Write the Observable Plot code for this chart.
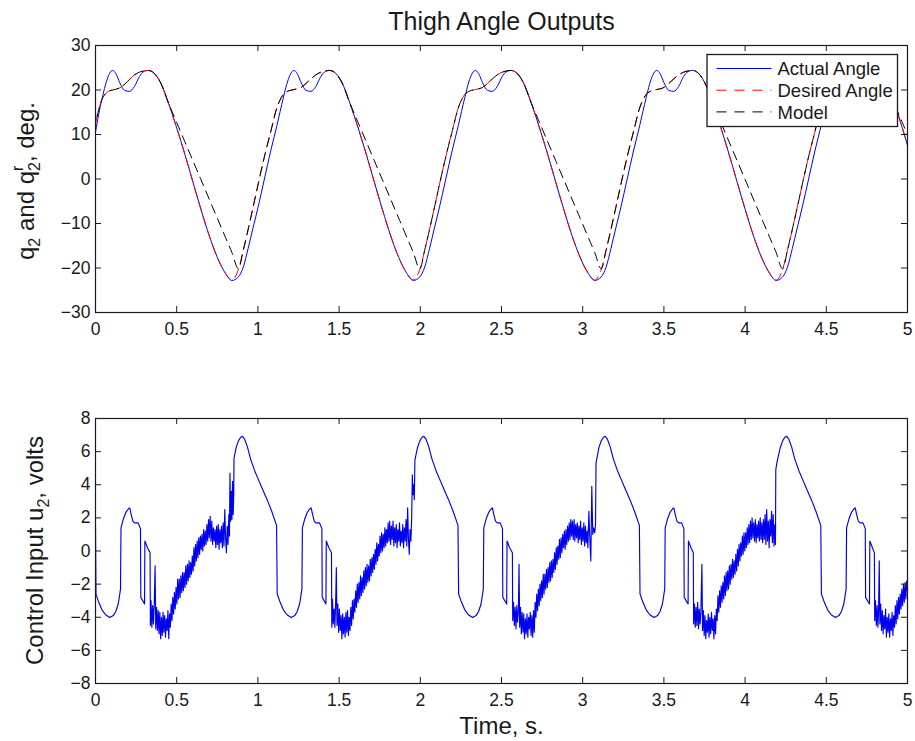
<!DOCTYPE html>
<html><head><meta charset="utf-8">
<script src="https://cdn.jsdelivr.net/npm/d3@7"></script>
<script src="https://cdn.jsdelivr.net/npm/@observablehq/plot@0.6"></script>
<style>
html,body{margin:0;padding:0;background:#fff;}
#fig{position:relative;width:915px;height:741px;overflow:hidden;background:#fff;}
#fig svg{position:absolute;left:0;}
</style></head><body><div id="fig"></div>
<script>
// ---------- DATA ----------
const xTicks = [0, 0.5, 1, 1.5, 2, 2.5, 3, 3.5, 4, 4.5, 5];
const angleTicks = [-30, -20, -10, 0, 10, 20, 30];
const voltTicks = [-8, -6, -4, -2, 0, 2, 4, 6, 8];
const seriesNames = ["Actual Angle", "Desired Angle", "Model"];

// Thigh angle, actual (deg) [time s, value]
const actualAngle = [
[0,10.5],[0.02,14.6],[0.04,18.0],[0.06,21.0],[0.08,23.2],[0.095,24.2],[0.105,24.4],[0.125,23.7],[0.15,21.6],[0.18,19.9],[0.21,19.7],[0.24,20.8],[0.27,23.0],[0.3,24.2],[0.325,24.4],[0.35,24.1],[0.4,21.7],[0.45,17.0],[0.5,11.5],[0.55,5.6],[0.6,-0.7],[0.65,-6.9],[0.7,-12.7],[0.75,-17.6],[0.8,-21.2],[0.84,-22.8],[0.88,-22.0],[0.91,-19.8],[0.94,-15.6],[0.97,-11.0],[1.0,-6.5],[1.04,0.0],[1.08,6.5],
[1.117,12.0],[1.137,15.2],[1.157,18.3],[1.177,21.2],[1.197,23.3],[1.212,24.2],[1.222,24.4],[1.242,23.7],[1.267,21.6],[1.297,19.9],[1.327,19.7],[1.357,20.8],[1.387,23.0],[1.417,24.2],[1.442,24.4],[1.467,24.1],[1.517,21.7],[1.567,17.0],[1.617,11.5],[1.667,5.6],[1.717,-0.7],[1.767,-6.9],[1.817,-12.7],[1.867,-17.6],[1.917,-21.2],[1.957,-22.8],[1.997,-22.0],[2.027,-19.8],[2.057,-15.6],[2.087,-11.0],[2.117,-6.5],[2.157,0.0],[2.197,6.5],
[2.234,12.0],[2.254,15.2],[2.274,18.3],[2.294,21.2],[2.314,23.3],[2.329,24.2],[2.339,24.4],[2.359,23.7],[2.384,21.6],[2.414,19.9],[2.444,19.7],[2.474,20.8],[2.504,23.0],[2.534,24.2],[2.559,24.4],[2.584,24.1],[2.634,21.7],[2.684,17.0],[2.734,11.5],[2.784,5.6],[2.834,-0.7],[2.884,-6.9],[2.934,-12.7],[2.984,-17.6],[3.034,-21.2],[3.074,-22.8],[3.114,-22.0],[3.144,-19.8],[3.174,-15.6],[3.204,-11.0],[3.234,-6.5],[3.274,0.0],[3.314,6.5],
[3.351,12.0],[3.371,15.2],[3.391,18.3],[3.411,21.2],[3.431,23.3],[3.446,24.2],[3.456,24.4],[3.476,23.7],[3.501,21.6],[3.531,19.9],[3.561,19.7],[3.591,20.8],[3.621,23.0],[3.651,24.2],[3.676,24.4],[3.701,24.1],[3.751,21.7],[3.801,17.0],[3.851,11.5],[3.901,5.6],[3.951,-0.7],[4.001,-6.9],[4.051,-12.7],[4.101,-17.6],[4.151,-21.2],[4.191,-22.8],[4.231,-22.0],[4.261,-19.8],[4.291,-15.6],[4.321,-11.0],[4.351,-6.5],[4.391,0.0],[4.431,6.5],
[4.468,12.0],[4.488,15.2],[4.508,18.3],[4.528,21.2],[4.548,23.3],[4.563,24.2],[4.573,24.4],[4.593,23.7],[4.618,21.6],[4.648,19.9],[4.678,19.7],[4.708,20.8],[4.738,23.0],[4.768,24.2],[4.793,24.4],[4.818,24.1],[4.868,21.7],[4.918,17.0],[4.968,11.5],[5.0,7.6]
];

// Thigh angle, desired (deg)
const desiredAngle = [
[0,12.5],[0.02,15.6],[0.04,17.9],[0.06,19.1],[0.08,19.7],[0.105,20.0],[0.15,20.5],[0.18,21.3],[0.21,22.4],[0.24,23.4],[0.27,24.0],[0.3,24.3],[0.325,24.4],[0.35,24.1],[0.4,21.7],[0.45,17.0],[0.5,11.5],[0.55,5.6],[0.6,-0.7],[0.65,-6.9],[0.7,-12.7],[0.75,-17.6],[0.8,-21.2],[0.84,-22.7],[0.88,-20.3],[0.91,-16.0],[0.94,-11.3],[0.97,-6.4],[1.0,-1.4],[1.04,5.0],[1.08,10.8],
[1.117,16.0],[1.137,17.8],[1.157,19.0],[1.177,19.6],[1.197,19.9],[1.222,20.1],[1.267,20.6],[1.297,21.5],[1.327,22.5],[1.357,23.4],[1.387,24.0],[1.417,24.3],[1.442,24.4],[1.467,24.1],[1.517,21.7],[1.567,17.0],[1.617,11.5],[1.667,5.6],[1.717,-0.7],[1.767,-6.9],[1.817,-12.7],[1.867,-17.6],[1.917,-21.2],[1.957,-22.7],[1.997,-20.3],[2.027,-16.0],[2.057,-11.3],[2.087,-6.4],[2.117,-1.4],[2.157,5.0],[2.197,10.8],
[2.234,16.0],[2.254,17.8],[2.274,19.0],[2.294,19.6],[2.314,19.9],[2.339,20.1],[2.384,20.6],[2.414,21.5],[2.444,22.5],[2.474,23.4],[2.504,24.0],[2.534,24.3],[2.559,24.4],[2.584,24.1],[2.634,21.7],[2.684,17.0],[2.734,11.5],[2.784,5.6],[2.834,-0.7],[2.884,-6.9],[2.934,-12.7],[2.984,-17.6],[3.034,-21.2],[3.074,-22.7],[3.114,-20.3],[3.144,-16.0],[3.174,-11.3],[3.204,-6.4],[3.234,-1.4],[3.274,5.0],[3.314,10.8],
[3.351,16.0],[3.371,17.8],[3.391,19.0],[3.411,19.6],[3.431,19.9],[3.456,20.1],[3.501,20.6],[3.531,21.5],[3.561,22.5],[3.591,23.4],[3.621,24.0],[3.651,24.3],[3.676,24.4],[3.701,24.1],[3.751,21.7],[3.801,17.0],[3.851,11.5],[3.901,5.6],[3.951,-0.7],[4.001,-6.9],[4.051,-12.7],[4.101,-17.6],[4.151,-21.2],[4.191,-22.7],[4.231,-20.3],[4.261,-16.0],[4.291,-11.3],[4.321,-6.4],[4.351,-1.4],[4.391,5.0],[4.431,10.8],
[4.468,16.0],[4.488,17.8],[4.508,19.0],[4.528,19.6],[4.548,19.9],[4.573,20.1],[4.618,20.6],[4.648,21.5],[4.678,22.5],[4.708,23.4],[4.738,24.0],[4.768,24.3],[4.793,24.4],[4.818,24.1],[4.868,21.7],[4.918,17.0],[4.968,11.5],[5.0,7.6]
];

// Thigh angle, model (deg)
const modelAngle = [
[0,12.5],[0.02,15.6],[0.04,17.9],[0.06,19.1],[0.08,19.7],[0.105,20.0],[0.15,20.5],[0.18,21.3],[0.21,22.4],[0.24,23.4],[0.27,24.0],[0.3,24.3],[0.325,24.4],[0.35,24.1],[0.4,21.7],[0.45,17.0],[0.5,12.7],[0.55,8.4],[0.6,4.1],[0.65,-0.2],[0.7,-4.5],[0.75,-8.8],[0.8,-13.1],[0.84,-16.5],[0.88,-20.2],[0.91,-16.0],[0.94,-11.3],[0.97,-6.4],[1.0,-1.4],[1.04,5.0],[1.08,10.8],
[1.117,16.0],[1.137,17.8],[1.157,19.0],[1.177,19.6],[1.197,19.9],[1.222,20.1],[1.267,20.6],[1.297,21.5],[1.327,22.5],[1.357,23.4],[1.387,24.0],[1.417,24.3],[1.442,24.4],[1.467,24.1],[1.517,21.7],[1.567,17.0],[1.617,12.7],[1.667,8.4],[1.717,4.1],[1.767,-0.2],[1.817,-4.5],[1.867,-8.8],[1.917,-13.1],[1.957,-16.5],[1.997,-20.2],[2.027,-16.0],[2.057,-11.3],[2.087,-6.4],[2.117,-1.4],[2.157,5.0],[2.197,10.8],
[2.234,16.0],[2.254,17.8],[2.274,19.0],[2.294,19.6],[2.314,19.9],[2.339,20.1],[2.384,20.6],[2.414,21.5],[2.444,22.5],[2.474,23.4],[2.504,24.0],[2.534,24.3],[2.559,24.4],[2.584,24.1],[2.634,21.7],[2.684,17.0],[2.734,12.7],[2.784,8.4],[2.834,4.1],[2.884,-0.2],[2.934,-4.5],[2.984,-8.8],[3.034,-13.1],[3.074,-16.5],[3.114,-20.2],[3.144,-16.0],[3.174,-11.3],[3.204,-6.4],[3.234,-1.4],[3.274,5.0],[3.314,10.8],
[3.351,16.0],[3.371,17.8],[3.391,19.0],[3.411,19.6],[3.431,19.9],[3.456,20.1],[3.501,20.6],[3.531,21.5],[3.561,22.5],[3.591,23.4],[3.621,24.0],[3.651,24.3],[3.676,24.4],[3.701,24.1],[3.751,21.7],[3.801,17.0],[3.851,12.7],[3.901,8.4],[3.951,4.1],[4.001,-0.2],[4.051,-4.5],[4.101,-8.8],[4.151,-13.1],[4.191,-16.5],[4.231,-20.2],[4.261,-16.0],[4.291,-11.3],[4.321,-6.4],[4.351,-1.4],[4.391,5.0],[4.431,10.8],
[4.468,16.0],[4.488,17.8],[4.508,19.0],[4.528,19.6],[4.548,19.9],[4.573,20.1],[4.618,20.6],[4.648,21.5],[4.678,22.5],[4.708,23.4],[4.738,24.0],[4.768,24.3],[4.793,24.4],[4.818,24.1],[4.868,21.7],[4.918,17.0],[4.968,12.7],[5.0,9.9]
];

// Control input u2 (volts): start time of each gait cycle (s) and the samples of each cycle [time within cycle, value]
const cycleStarts = [0, 1.117, 2.234, 3.351, 4.468];
const controlCycle0 = [
[0,1.5],[0.003,-2.6],[0.02,-3.1],[0.04,-3.55],[0.062,-3.85],[0.088,-4.02],[0.11,-3.9],[0.125,-3.65],[0.14,-3.2],[0.154,-2.3],[0.157,1.4],[0.172,1.95],[0.188,2.35],[0.203,2.55],[0.211,2.6],[0.22,2.2],[0.23,1.8],[0.24,1.7],[0.262,1.7],[0.277,1.35],[0.279,-2.8],[0.302,-3.2],[0.304,0.6],[0.32,0.2],[0.336,-0.1],
[0.338,-4.5],[0.342,-3.0],[0.347,-4.6],[0.352,-3.3],[0.357,-4.4],[0.362,-3.1],[0.367,-0.9],[0.371,-4.7],[0.376,-3.4],[0.381,-4.8],[0.386,-3.6],[0.391,-5.0],[0.396,-3.7],[0.401,-5.3],[0.406,-4.0],[0.411,-5.1],[0.416,-3.7],[0.421,-4.9],[0.426,-3.9],[0.431,-5.2],[0.436,-4.1],[0.441,-4.8],[0.446,-3.6],[0.451,-5.3],[0.456,-3.8],[0.461,-4.6],[0.466,-3.2],[0.471,-4.2],[0.476,-2.8],[0.481,-3.8],[0.486,-2.5],[0.491,-3.5],[0.496,-2.2],[0.501,-3.2],[0.506,-1.7],[0.511,-2.9],[0.516,-1.7],[0.521,-2.8],[0.526,-1.5],[0.531,-2.5],[0.536,-1.3],[0.541,-2.4],[0.546,-1.3],[0.551,-2.2],[0.556,-0.9],[0.561,-2.0],[0.566,-0.8],[0.571,-1.8],[0.576,-0.6],[0.581,-1.6],[0.586,-0.7],[0.591,-1.4],[0.596,-0.3],[0.601,-1.2],[0.606,0.2],[0.611,-0.9],[0.616,0.4],[0.621,-0.6],[0.626,0.6],[0.631,-0.4],[0.636,0.8],[0.641,-0.2],[0.646,0.9],[0.651,0.1],[0.656,1.0],[0.661,0.0],[0.666,1.3],[0.671,0.3],[0.676,1.2],[0.681,0.4],[0.686,1.6],[0.691,0.6],[0.696,1.9],[0.701,0.8],[0.706,2.1],[0.711,0.6],[0.716,1.8],[0.721,0.4],[0.726,1.4],[0.731,0.6],[0.736,1.3],[0.741,0.2],[0.746,1.5],[0.751,0.4],[0.756,1.6],[0.761,0.1],[0.766,1.3],[0.771,0.5],[0.776,1.5],[0.781,0.2],[0.786,1.7],[0.791,0.3],[0.796,2.5],[0.801,0.8],[0.806,-0.1],[0.811,1.5],[0.816,0.4],[0.821,2.2],[0.825,0.9],[0.828,4.7],[0.832,1.8],[0.836,3.6],[0.84,1.9],[0.844,4.2],[0.848,2.2],[0.851,3.4],[0.853,5.6],
[0.866,6.25],[0.88,6.65],[0.895,6.88],[0.905,6.92],[0.918,6.75],[0.935,6.3],[0.955,5.55],[0.98,4.85],[1.006,4.25],[1.03,3.7],[1.057,3.1],[1.085,2.4],[1.115,1.55]
];
const controlCycle1 = [
[0.002,-2.6],[0.02,-3.1],[0.04,-3.55],[0.062,-3.85],[0.088,-4.02],[0.11,-3.9],[0.125,-3.65],[0.14,-3.2],[0.154,-2.3],[0.157,1.4],[0.172,1.95],[0.188,2.35],[0.203,2.55],[0.211,2.6],[0.22,2.2],[0.23,1.8],[0.24,1.7],[0.262,1.7],[0.277,1.35],[0.279,-2.8],[0.302,-3.2],[0.304,0.6],[0.32,0.2],[0.336,-0.1],
[0.338,-4.6],[0.342,-2.9],[0.347,-4.4],[0.352,-3.5],[0.357,-4.6],[0.362,-3.0],[0.366,-1.0],[0.37,-4.5],[0.375,-3.2],[0.38,-4.9],[0.385,-3.5],[0.39,-4.8],[0.395,-3.9],[0.4,-5.3],[0.405,-3.8],[0.41,-5.0],[0.415,-4.0],[0.42,-5.2],[0.425,-3.7],[0.43,-4.9],[0.435,-3.6],[0.44,-5.1],[0.445,-4.0],[0.45,-4.8],[0.455,-3.4],[0.46,-4.5],[0.465,-3.0],[0.47,-4.1],[0.475,-2.9],[0.48,-3.7],[0.485,-2.4],[0.49,-3.4],[0.495,-2.0],[0.5,-3.1],[0.505,-1.9],[0.51,-2.9],[0.515,-1.5],[0.52,-2.7],[0.525,-1.6],[0.53,-2.5],[0.535,-1.2],[0.54,-2.3],[0.545,-1.0],[0.55,-2.1],[0.555,-0.8],[0.56,-1.9],[0.565,-0.9],[0.57,-1.8],[0.575,-0.5],[0.58,-1.5],[0.585,-0.4],[0.59,-1.3],[0.595,-0.2],[0.6,-1.1],[0.605,0.1],[0.61,-0.8],[0.615,0.5],[0.62,-0.6],[0.625,0.4],[0.63,-0.3],[0.635,0.9],[0.64,-0.1],[0.645,1.1],[0.65,0.0],[0.655,1.0],[0.66,0.2],[0.665,1.4],[0.67,0.3],[0.675,1.3],[0.68,0.5],[0.685,1.7],[0.69,0.6],[0.695,1.8],[0.7,0.4],[0.705,1.5],[0.71,0.7],[0.715,1.8],[0.72,0.3],[0.725,1.4],[0.73,0.5],[0.735,1.6],[0.74,0.2],[0.745,1.3],[0.75,0.6],[0.755,1.7],[0.76,0.3],[0.765,1.2],[0.77,0.5],[0.775,1.6],[0.78,0.2],[0.785,1.4],[0.79,0.6],[0.795,1.9],[0.8,0.3],[0.805,2.6],[0.81,0.7],[0.815,-0.2],[0.82,1.3],[0.825,0.6],[0.83,2.0],[0.834,4.6],[0.838,3.4],[0.842,4.0],[0.846,3.1],[0.85,5.5],
[0.866,6.25],[0.88,6.65],[0.895,6.88],[0.905,6.92],[0.918,6.75],[0.935,6.3],[0.955,5.55],[0.98,4.85],[1.006,4.25],[1.03,3.7],[1.057,3.1],[1.085,2.4],[1.115,1.55]
];
const controlCycle2 = [
[0.002,-2.6],[0.02,-3.1],[0.04,-3.55],[0.062,-3.85],[0.088,-4.02],[0.11,-3.9],[0.125,-3.65],[0.14,-3.2],[0.154,-2.3],[0.157,1.4],[0.172,1.95],[0.188,2.35],[0.203,2.55],[0.21,2.6],[0.219,2.2],[0.229,1.8],[0.24,1.7],[0.258,1.7],[0.272,1.35],[0.274,-2.8],[0.298,-3.2],[0.3,0.6],[0.316,0.2],[0.333,-0.1],
[0.335,-4.2],[0.34,-3.1],[0.345,-4.5],[0.35,-3.4],[0.355,-4.7],[0.36,-3.3],[0.365,-4.3],[0.37,-3.6],[0.374,-0.8],[0.378,-4.6],[0.383,-3.4],[0.388,-5.0],[0.393,-3.7],[0.398,-4.9],[0.403,-3.8],[0.408,-5.3],[0.413,-4.1],[0.418,-5.0],[0.423,-3.8],[0.428,-5.2],[0.433,-4.0],[0.438,-4.7],[0.443,-3.7],[0.448,-5.1],[0.453,-3.9],[0.458,-5.2],[0.463,-3.6],[0.468,-4.9],[0.473,-3.1],[0.478,-4.0],[0.483,-2.6],[0.488,-3.6],[0.493,-2.3],[0.498,-3.3],[0.503,-2.0],[0.508,-3.0],[0.513,-1.8],[0.518,-2.8],[0.523,-1.4],[0.528,-2.6],[0.533,-1.4],[0.538,-2.3],[0.543,-1.1],[0.548,-2.2],[0.553,-1.0],[0.558,-1.9],[0.563,-0.7],[0.568,-1.8],[0.573,-0.6],[0.578,-1.6],[0.583,-0.5],[0.588,-1.3],[0.593,-0.1],[0.598,-1.1],[0.603,0.2],[0.608,-0.8],[0.613,0.3],[0.618,-0.5],[0.623,0.7],[0.628,-0.4],[0.633,0.8],[0.638,-0.1],[0.643,1.0],[0.648,0.2],[0.653,1.2],[0.658,0.1],[0.663,1.3],[0.668,0.4],[0.673,1.5],[0.678,0.6],[0.683,1.7],[0.688,0.7],[0.693,1.9],[0.698,0.9],[0.703,1.8],[0.708,0.7],[0.713,1.9],[0.718,0.6],[0.723,1.6],[0.728,0.8],[0.733,1.7],[0.738,0.5],[0.743,1.5],[0.748,0.7],[0.753,1.8],[0.758,0.4],[0.763,1.4],[0.768,0.6],[0.773,1.7],[0.778,0.3],[0.783,1.5],[0.788,0.5],[0.793,1.2],[0.798,0.2],[0.804,2.4],[0.81,0.7],[0.816,-0.6],[0.822,3.9],[0.828,1.0],[0.834,1.4],[0.84,1.1],[0.845,1.6],[0.848,5.3],
[0.866,6.25],[0.88,6.65],[0.895,6.88],[0.905,6.92],[0.918,6.75],[0.935,6.3],[0.955,5.55],[0.98,4.85],[1.006,4.25],[1.03,3.7],[1.057,3.1],[1.085,2.4],[1.115,1.55]
];
const controlCycle3 = [
[0.002,-2.6],[0.02,-3.1],[0.04,-3.55],[0.062,-3.85],[0.088,-4.02],[0.11,-3.9],[0.125,-3.65],[0.14,-3.2],[0.154,-2.3],[0.157,1.4],[0.172,1.95],[0.188,2.35],[0.203,2.55],[0.21,2.6],[0.219,2.2],[0.229,1.8],[0.24,1.7],[0.258,1.7],[0.272,1.35],[0.274,-2.8],[0.298,-3.2],[0.3,0.6],[0.316,0.2],[0.33,-0.1],
[0.332,-4.4],[0.337,-3.2],[0.342,-4.6],[0.347,-3.4],[0.352,-4.5],[0.357,-3.1],[0.362,-4.7],[0.367,-3.5],[0.372,-4.4],[0.377,-3.6],[0.383,-0.8],[0.387,-4.8],[0.392,-3.6],[0.397,-5.1],[0.402,-3.9],[0.407,-5.3],[0.412,-4.2],[0.417,-4.9],[0.422,-3.8],[0.427,-5.2],[0.432,-4.0],[0.437,-5.0],[0.442,-3.7],[0.447,-4.8],[0.452,-4.1],[0.457,-5.3],[0.462,-3.9],[0.467,-5.0],[0.472,-3.5],[0.477,-4.2],[0.482,-2.7],[0.487,-3.7],[0.492,-2.4],[0.497,-3.4],[0.502,-2.1],[0.507,-3.1],[0.512,-1.9],[0.517,-2.9],[0.522,-1.5],[0.527,-2.7],[0.532,-1.3],[0.537,-2.4],[0.542,-1.2],[0.547,-2.3],[0.552,-0.9],[0.557,-2.0],[0.562,-0.8],[0.567,-1.7],[0.572,-0.5],[0.577,-1.6],[0.582,-0.6],[0.587,-1.4],[0.592,-0.2],[0.597,-1.2],[0.602,0.1],[0.607,-0.9],[0.612,0.4],[0.617,-0.6],[0.622,0.5],[0.627,-0.3],[0.632,0.9],[0.637,-0.2],[0.642,1.1],[0.647,0.0],[0.652,1.1],[0.657,0.2],[0.662,1.4],[0.667,0.4],[0.672,1.6],[0.677,0.5],[0.682,1.8],[0.687,0.7],[0.692,2.0],[0.697,0.8],[0.702,1.7],[0.707,0.6],[0.712,1.9],[0.717,0.5],[0.722,1.6],[0.727,0.8],[0.732,1.8],[0.737,0.6],[0.742,2.0],[0.747,0.7],[0.752,1.7],[0.757,0.5],[0.762,1.9],[0.767,0.7],[0.772,2.2],[0.777,0.4],[0.782,2.5],[0.787,0.6],[0.792,1.8],[0.797,0.2],[0.802,1.9],[0.807,0.9],[0.812,2.4],[0.817,0.5],[0.822,2.2],[0.827,0.3],[0.832,1.6],[0.836,0.4],[0.838,4.9],[0.846,5.4],
[0.866,6.25],[0.88,6.65],[0.895,6.88],[0.905,6.92],[0.918,6.75],[0.935,6.3],[0.955,5.55],[0.98,4.85],[1.006,4.25],[1.03,3.7],[1.057,3.1],[1.085,2.4],[1.115,1.55]
];
const controlCycle4 = [
[0.002,-2.6],[0.02,-3.1],[0.04,-3.55],[0.062,-3.85],[0.088,-4.02],[0.11,-3.9],[0.125,-3.65],[0.14,-3.2],[0.154,-2.3],[0.157,1.4],[0.172,1.95],[0.188,2.35],[0.203,2.55],[0.21,2.6],[0.219,2.2],[0.229,1.8],[0.24,1.7],[0.258,1.7],[0.272,1.35],[0.274,-2.8],[0.298,-3.2],[0.3,0.6],[0.316,0.2],[0.328,-0.1],
[0.33,-4.2],[0.335,-3.0],[0.34,-4.5],[0.345,-3.3],[0.35,-4.6],[0.354,-3.5],[0.358,-0.6],[0.362,-4.4],[0.367,-3.2],[0.372,-4.8],[0.377,-3.6],[0.382,-5.0],[0.387,-3.9],[0.392,-4.7],[0.397,-3.5],[0.402,-5.2],[0.407,-4.0],[0.412,-4.9],[0.417,-3.8],[0.422,-5.2],[0.427,-4.1],[0.432,-4.8],[0.437,-3.7],[0.442,-5.1],[0.447,-3.9],[0.452,-4.6],[0.457,-3.3],[0.462,-4.4],[0.467,-3.0],[0.472,-4.1],[0.477,-2.8],[0.482,-3.8],[0.487,-2.6],[0.492,-3.5],[0.497,-2.3],[0.502,-3.3],[0.507,-2.0],[0.512,-3.1],[0.517,-1.9],[0.522,-2.9],[0.527,-1.8],[0.532,-2.4]
];
const controlCycles = [controlCycle0, controlCycle1, controlCycle2, controlCycle3, controlCycle4];

// ---------- BUILD ----------
const FONT = '"Liberation Sans", Arial, Helvetica, sans-serif';
const W = 915, ML = 95, MR = 8;
const INK = "#1a1a1a";
const DASH = "9,6";
const fmt = d => (d < 0 ? "\u2212" : "") + Math.abs(d);

const controlInput = cycleStarts.flatMap((s, k) => controlCycles[k].map(([tau, v]) => [+(s + tau).toFixed(4), v])).filter(d => d[0] <= 5);

function panel({height, marginTop, marginBottom, yDomain, yTicks, marks, extra}) {
  const fw = W - ML - MR;
  const fh = height - marginTop - marginBottom;
  return Plot.plot({
    width: W, height, marginLeft: ML, marginRight: MR, marginTop, marginBottom,
    style: {fontFamily: FONT, fontSize: "17.5px", color: INK, background: "white", overflow: "visible"},
    x: {domain: [0, 5]},
    y: {domain: yDomain},
    marks: [
      ...marks,
      Plot.tickX(xTicks, {x: d => d, insetTop: fh - 6, stroke: INK}),
      Plot.tickX(xTicks, {x: d => d, insetBottom: fh - 6, stroke: INK}),
      Plot.tickY(yTicks, {y: d => d, insetRight: fw - 6, stroke: INK}),
      Plot.tickY(yTicks, {y: d => d, insetLeft: fw - 6, stroke: INK}),
      Plot.axisX(xTicks, {tickSize: 0, tickPadding: 10, tickFormat: fmt, label: null, fill: INK}),
      Plot.axisY(yTicks, {tickSize: 0, tickPadding: 5, tickFormat: fmt, label: null, fill: INK}),
      Plot.frame({stroke: INK, strokeWidth: 1.2}),
      ...extra
    ]
  });
}

const topChart = panel({
  height: 340, marginTop: 45, marginBottom: 28,
  yDomain: [-30, 30], yTicks: angleTicks,
  marks: [
    Plot.line(actualAngle, {x: d => d[0], y: d => d[1], stroke: "#0000ff", strokeWidth: 1, curve: "monotone-x"}),
    Plot.line(desiredAngle, {x: d => d[0], y: d => d[1], stroke: "#ff0000", strokeWidth: 1, strokeDasharray: DASH, curve: "monotone-x"}),
    Plot.line(modelAngle, {x: d => d[0], y: d => d[1], stroke: "#000000", strokeWidth: 1, strokeDasharray: DASH, strokeDashoffset: 8, curve: "monotone-x"})
  ],
  extra: [
    Plot.text(["Thigh Angle Outputs"], {text: d => d, frameAnchor: "top", dy: -16, lineAnchor: "bottom", fontSize: 25, fill: INK})
  ]
});

const bottomChart = panel({
  height: 361, marginTop: 38, marginBottom: 58,
  yDomain: [-8, 8], yTicks: voltTicks,
  marks: [
    Plot.line(controlInput, {x: d => d[0], y: d => d[1], stroke: "#0000f0", strokeWidth: 1.15, curve: "linear"})
  ],
  extra: [
    Plot.text(["Time, s."], {text: d => d, frameAnchor: "bottom", dy: 50, lineAnchor: "bottom", fontSize: 24, fill: INK})
  ]
});

const fig = document.getElementById("fig");
topChart.style.top = "0px";
bottomChart.style.top = "380px";
fig.appendChild(topChart);
fig.appendChild(bottomChart);

// y-axis titles with subscripts / superscripts as real text
function yLabel(svg, x, y, parts) {
  const t = d3.select(svg).append("text")
    .attr("transform", `translate(${x},${y}) rotate(-90)`)
    .attr("text-anchor", "middle").attr("font-size", 24).attr("fill", INK)
    .attr("font-family", FONT);
  for (const p of parts) {
    const s = t.append("tspan").text(p.text);
    if (p.dx != null) s.attr("dx", p.dx);
    if (p.dy != null) s.attr("dy", p.dy);
    if (p.size != null) s.attr("font-size", p.size);
  }
}
yLabel(topChart, 33.5, 181, [
  {text: "q"}, {text: "2", size: 16, dy: 6}, {text: " and q", dy: -6},
  {text: "2", size: 16, dy: 6}, {text: "r", size: 16, dx: -8.9, dy: -17}, {text: ", deg.", dx: 3.6, dy: 11}
]);
yLabel(bottomChart, 43, 170.5, [
  {text: "Control Input u"}, {text: "2", size: 16, dy: 6}, {text: ", volts", dy: -6}
]);

// legend box (drawn over the curves, white background)
const lg = d3.select(topChart).append("g").attr("font-family", FONT).attr("font-size", 18.5)
  .attr("fill", INK).attr("text-anchor", "start");
lg.append("rect").attr("x", 707).attr("y", 54.5).attr("width", 190.5).attr("height", 72)
  .attr("fill", "white").attr("stroke", INK).attr("stroke-width", 1.3);
const legendStyles = [
  {stroke: "#0000ff", dash: null},
  {stroke: "#ff0000", dash: DASH},
  {stroke: "#000000", dash: DASH}
];
seriesNames.forEach((name, i) => {
  const y = 68.5 + i * 21.7;
  const ln = lg.append("line").attr("x1", 716.5).attr("x2", 771.5).attr("y1", y).attr("y2", y)
    .attr("stroke", legendStyles[i].stroke).attr("stroke-width", 1);
  if (legendStyles[i].dash) ln.attr("stroke-dasharray", "10,8");
  lg.append("text").attr("x", 777.5).attr("y", y + 6.8).attr("text-anchor", "start").text(name);
});
</script></body></html>
